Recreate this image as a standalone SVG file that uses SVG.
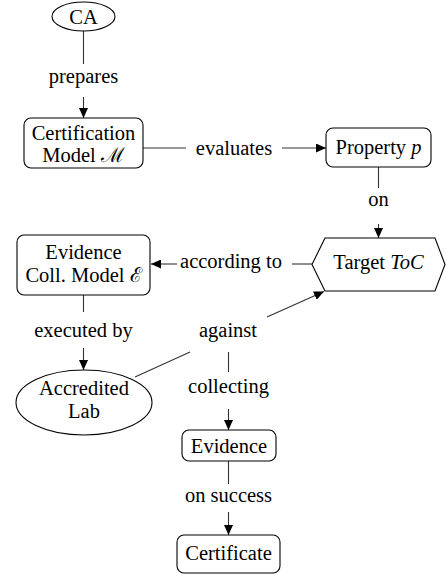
<svg xmlns="http://www.w3.org/2000/svg" width="446" height="575" viewBox="0 0 446 575">
<style>
text{font-family:"Liberation Serif","Times New Roman",serif;font-size:20.5px;fill:#000;text-anchor:middle}
.it{font-style:italic}
.cal{font-family:"DejaVu Serif",serif}
.node{fill:#fff;stroke:#000;stroke-width:1.1}
.edge{stroke:#333;stroke-width:1.1;fill:none}
.arr{marker-end:url(#ah)}
</style>
<defs>
<marker id="ah" markerUnits="userSpaceOnUse" markerWidth="11" markerHeight="9" refX="10" refY="4.5" orient="auto">
<path d="M0,0 L10,4.5 L0,9 Z" fill="#000"/>
</marker>
</defs>
<rect width="446" height="575" fill="#fff"/>
<g id="connectors">
<line class="edge" x1="83.5" y1="31" x2="83.5" y2="64"/>
<text x="83.5" y="83">prepares</text>
<line class="edge arr" x1="83.5" y1="97" x2="83.5" y2="118"/>
<line class="edge" x1="143" y1="148" x2="186" y2="148"/>
<text x="234" y="154.5">evaluates</text>
<line class="edge arr" x1="282" y1="148" x2="326" y2="148"/>
<line class="edge" x1="378.5" y1="167" x2="378.5" y2="188"/>
<text x="378.5" y="206">on</text>
<line class="edge arr" x1="378.5" y1="224" x2="378.5" y2="238"/>
<line class="edge" x1="312" y1="264" x2="292" y2="264"/>
<text x="231" y="268">according to</text>
<line class="edge arr" x1="177" y1="264" x2="151" y2="264"/>
<line class="edge" x1="83.5" y1="295" x2="83.5" y2="312"/>
<text x="83.5" y="337">executed by</text>
<line class="edge arr" x1="83.5" y1="348" x2="83.5" y2="370"/>
<line class="edge" x1="135" y1="377" x2="190" y2="352"/>
<text x="228" y="337">against</text>
<line class="edge arr" x1="267" y1="317" x2="324" y2="291.5"/>
<line class="edge" x1="228.5" y1="352" x2="228.5" y2="372"/>
<text x="228.5" y="393">collecting</text>
<line class="edge arr" x1="228.5" y1="409" x2="228.5" y2="430"/>
<line class="edge" x1="228.5" y1="461" x2="228.5" y2="484"/>
<text x="228.5" y="502">on success</text>
<line class="edge arr" x1="228.5" y1="512" x2="228.5" y2="535"/>
</g>
<g id="ca">
<ellipse class="node" cx="83.5" cy="16.5" rx="31.5" ry="14.5"/>
<text x="83.5" y="23.5">CA</text>
</g>
<g id="cert-model">
<rect class="node" x="24" y="118" width="119" height="50" rx="7"/>
<text x="83.5" y="140">Certification</text>
<text x="83.5" y="161.5">Model <tspan class="cal">ℳ</tspan></text>
</g>
<g id="property">
<rect class="node" x="326" y="128" width="105" height="39" rx="7"/>
<text x="378.5" y="154">Property <tspan class="it">p</tspan></text>
</g>
<g id="target">
<polygon class="node" points="312,264.5 325,238 435,238 445,264.5 435,291 325,291"/>
<text x="378.5" y="268.5">Target <tspan class="it">ToC</tspan></text>
</g>
<g id="ev-model">
<rect class="node" x="17" y="235" width="133" height="60" rx="7"/>
<text x="83.5" y="259">Evidence</text>
<text x="83.5" y="281.5">Coll. Model <tspan class="cal">ℰ</tspan></text>
</g>
<g id="lab">
<ellipse class="node" cx="84" cy="402.5" rx="68" ry="32.5"/>
<text x="84" y="395">Accredited</text>
<text x="84" y="417.5">Lab</text>
</g>
<g id="evidence">
<rect class="node" x="182" y="430" width="94" height="31" rx="7"/>
<text x="229" y="452.5">Evidence</text>
</g>
<g id="certificate">
<rect class="node" x="177" y="535" width="103" height="38" rx="7"/>
<text x="228.5" y="560">Certificate</text>
</g>
</svg>
